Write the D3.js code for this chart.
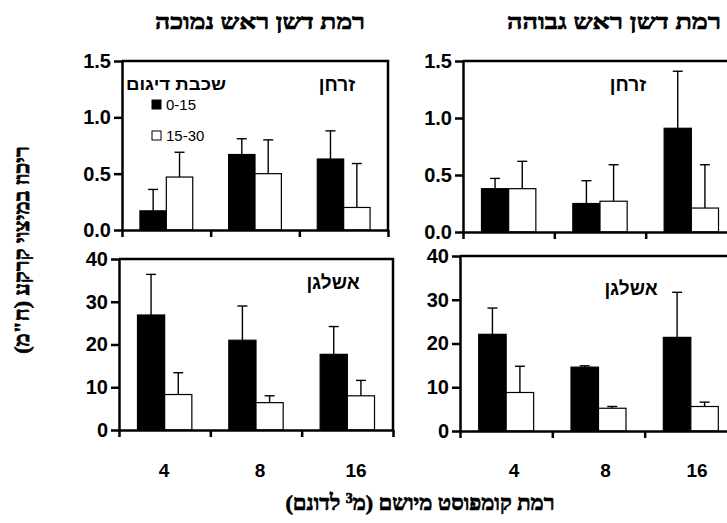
<!DOCTYPE html>
<html>
<head>
<meta charset="utf-8">
<script src="https://cdn.jsdelivr.net/npm/d3@7"></script>
<style>
  body { margin: 0; background: #fff; }
  svg { display: block; }
</style>
</head>
<body>
<div id="chart"></div>
<script>
// compost level (m3 per dunam)
const categories = ['4', '8', '16'];
// sampling layer (cm)
const layers = ['0-15', '15-30'];
const yTicksP = [0, 0.5, 1.0, 1.5];
const yTicksK = [0, 10, 20, 30, 40];

// phosphorus, low starter fertilizer
const pLowTop = [0.17, 0.67, 0.63];
const pLowTopErr = [0.19, 0.14, 0.25];
const pLowSub = [0.47, 0.50, 0.20];
const pLowSubErr = [0.22, 0.30, 0.39];

// phosphorus, high starter fertilizer
const pHighTop = [0.38, 0.25, 0.91];
const pHighTopErr = [0.09, 0.20, 0.50];
const pHighSub = [0.38, 0.27, 0.21];
const pHighSubErr = [0.24, 0.32, 0.38];

// potassium, low starter fertilizer
const kLowTop = [26.9, 21.0, 17.7];
const kLowTopErr = [9.5, 8.0, 6.5];
const kLowSub = [8.3, 6.4, 8.0];
const kLowSubErr = [5.1, 1.6, 3.6];

// potassium, high starter fertilizer
const kHighTop = [22.1, 14.6, 21.4];
const kHighTopErr = [6.0, 0.3, 10.3];
const kHighSub = [8.8, 5.2, 5.6];
const kHighSubErr = [6.0, 0.4, 1.0];

const W = 727, H = 523;
const sansFont = '"Liberation Sans", Arial, sans-serif';
const serifFont = '"Liberation Serif", "Times New Roman", serif';

const svg = d3.select('#chart').append('svg')
  .attr('width', W)
  .attr('height', H);

const panels = [
  { x0: 122, x1: 388, y0: 61, y1: 230, max: 1.5, ticks: yTicksP, fmt: d3.format('.1f'),
    name: 'זרחן', nx: 337, ny: 91, top: pLowTop, topErr: pLowTopErr, sub: pLowSub, subErr: pLowSubErr,
    legend: true, labelRange: null },
  { x0: 463, x1: 737, y0: 61, y1: 232, max: 1.5, ticks: yTicksP, fmt: d3.format('.1f'),
    name: 'זרחן', nx: 628, ny: 91, top: pHighTop, topErr: pHighTopErr, sub: pHighSub, subErr: pHighSubErr,
    legend: false, labelRange: null },
  { x0: 119, x1: 393, y0: 259, y1: 430, max: 40, ticks: yTicksK, fmt: d3.format('d'),
    name: 'אשלגן', nx: 333, ny: 289, top: kLowTop, topErr: kLowTopErr, sub: kLowSub, subErr: kLowSubErr,
    legend: false, labelRange: [164, 356] },
  { x0: 460, x1: 737, y0: 256, y1: 431, max: 40, ticks: yTicksK, fmt: d3.format('d'),
    name: 'אשלגן', nx: 631, ny: 295, top: kHighTop, topErr: kHighTopErr, sub: kHighSub, subErr: kHighSubErr,
    legend: false, labelRange: [514, 697] }
];

panels.forEach(function(p) {
  const g = svg.append('g');

  const x = d3.scaleBand().domain(categories).range([p.x0, p.x1]);
  const xInner = d3.scaleBand().domain(layers).range([0, x.bandwidth()]).paddingOuter(0.68);
  const y = d3.scaleLinear().domain([0, p.max]).range([p.y1, p.y0]);

  const rows = categories.map(function(c, i) {
    return [
      { cat: c, layer: layers[0], v: p.top[i], e: p.topErr[i] },
      { cat: c, layer: layers[1], v: p.sub[i], e: p.subErr[i] }
    ];
  }).flat();

  const cx = function(d) { return x(d.cat) + xInner(d.layer) + xInner.bandwidth() / 2; };

  // error bars (upper only), drawn under the bars
  const eb = g.selectAll('g.err').data(rows).enter().append('g').attr('class', 'err')
    .attr('stroke', '#000').attr('stroke-width', 1.4);
  eb.append('line')
    .attr('x1', cx).attr('x2', cx)
    .attr('y1', function(d) { return y(d.v); })
    .attr('y2', function(d) { return y(d.v + d.e); });
  eb.append('line')
    .attr('x1', function(d) { return cx(d) - 5; })
    .attr('x2', function(d) { return cx(d) + 5; })
    .attr('y1', function(d) { return y(d.v + d.e); })
    .attr('y2', function(d) { return y(d.v + d.e); });

  g.selectAll('rect.bar').data(rows).enter().append('rect').attr('class', 'bar')
    .attr('x', function(d) { return x(d.cat) + xInner(d.layer); })
    .attr('width', xInner.bandwidth())
    .attr('y', function(d) { return y(d.v); })
    .attr('height', function(d) { return p.y1 - y(d.v); })
    .attr('fill', function(d) { return d.layer === layers[0] ? '#000' : '#fff'; })
    .attr('stroke', '#000')
    .attr('stroke-width', 1.2);

  // frame: top and right edges
  g.append('path')
    .attr('d', 'M' + p.x0 + ',' + p.y0 + 'H' + p.x1 + 'V' + p.y1)
    .attr('fill', 'none').attr('stroke', '#000').attr('stroke-width', 2.5);

  // y axis
  const yAxis = g.append('g')
    .attr('transform', 'translate(' + p.x0 + ',0)')
    .call(d3.axisLeft(y).tickValues(p.ticks).tickFormat(p.fmt).tickSize(8).tickSizeOuter(0).tickPadding(3));

  // x axis: ticks at the category boundaries
  const xb = d3.scaleLinear().domain([0, categories.length]).range([p.x0, p.x1]);
  const xAxis = g.append('g')
    .attr('transform', 'translate(0,' + p.y1 + ')')
    .call(d3.axisBottom(xb).tickValues(d3.range(categories.length + 1)).tickFormat('').tickSize(7).tickSizeOuter(0));

  [yAxis, xAxis].forEach(function(a) {
    a.select('.domain').attr('stroke-width', 2.5);
    a.selectAll('.tick line').attr('stroke-width', 2.5);
  });
  yAxis.selectAll('.tick text')
    .attr('font-family', sansFont).attr('font-weight', 'bold').attr('font-size', 20).attr('fill', '#000');

  if (p.labelRange) {
    const xl = d3.scalePoint().domain(categories).range(p.labelRange);
    g.selectAll('text.xl').data(categories).enter().append('text').attr('class', 'xl')
      .attr('x', function(d) { return xl(d); })
      .attr('y', 477)
      .attr('text-anchor', 'middle')
      .attr('font-family', sansFont).attr('font-weight', 'bold').attr('font-size', 19)
      .text(function(d) { return d; });
  }

  g.append('text')
    .attr('x', p.nx).attr('y', p.ny)
    .attr('text-anchor', 'middle')
    .attr('direction', 'rtl')
    .attr('font-family', sansFont).attr('font-weight', 'bold').attr('font-size', 19)
    .text(p.name);

  if (p.legend) {
    const lg = g.append('g');
    lg.append('text')
      .attr('x', 176).attr('y', 90)
      .attr('text-anchor', 'middle').attr('direction', 'rtl')
      .attr('font-family', sansFont).attr('font-weight', 'bold').attr('font-size', 17)
      .attr('textLength', 100).attr('lengthAdjust', 'spacingAndGlyphs')
      .text('שכבת דיגום');
    const items = lg.selectAll('g.item').data(layers).enter().append('g').attr('class', 'item')
      .attr('transform', function(d, i) { return 'translate(152,' + (100 + i * 31) + ')'; });
    items.append('rect')
      .attr('width', 9).attr('height', 9)
      .attr('fill', function(d, i) { return i === 0 ? '#000' : '#fff'; })
      .attr('stroke', '#000').attr('stroke-width', 1);
    items.append('text')
      .attr('x', 14).attr('y', 9.5)
      .attr('font-family', sansFont).attr('font-size', 15)
      .text(function(d) { return d; });
  }
});

// heavy serif Hebrew text
function heavy(sel) {
  return sel.attr('font-family', serifFont).attr('font-weight', 'bold')
    .attr('stroke', '#000').attr('stroke-width', 0.7).attr('fill', '#000');
}

// column titles
heavy(svg.append('text'))
  .attr('x', 260).attr('y', 29)
  .attr('text-anchor', 'middle').attr('direction', 'rtl')
  .attr('font-size', 21)
  .attr('textLength', 210).attr('lengthAdjust', 'spacingAndGlyphs')
  .text('רמת דשן ראש נמוכה');
heavy(svg.append('text'))
  .attr('x', 614).attr('y', 29)
  .attr('text-anchor', 'middle').attr('direction', 'rtl')
  .attr('font-size', 21)
  .attr('textLength', 214).attr('lengthAdjust', 'spacingAndGlyphs')
  .text('רמת דשן ראש גבוהה');

// y axis title
heavy(svg.append('text'))
  .attr('transform', 'translate(29,250) rotate(-90)')
  .attr('text-anchor', 'middle').attr('direction', 'rtl')
  .attr('font-size', 22)
  .text('ריכוז במיצוי קרקע (ח"מ)');

// x axis title
const xt = heavy(svg.append('text'))
  .attr('x', 420).attr('y', 510)
  .attr('text-anchor', 'middle').attr('direction', 'rtl')
  .attr('font-size', 22);
xt.append('tspan').text('רמת קומפוסט מיושם (מ');
xt.append('tspan').attr('baseline-shift', 'super').attr('font-size', 14).text('3');
xt.append('tspan').text(' לדונם)');
</script>
</body>
</html>
